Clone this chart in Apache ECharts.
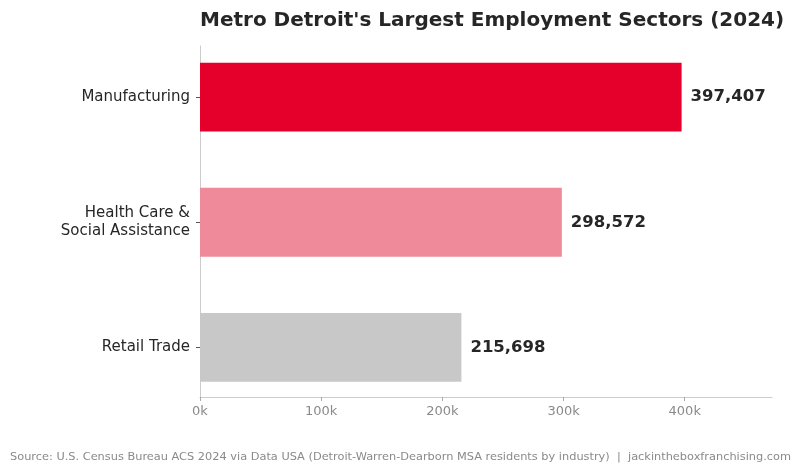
<!DOCTYPE html>
<html>
<head>
<meta charset="utf-8">
<script src="https://cdn.jsdelivr.net/npm/echarts@6/dist/echarts.min.js"></script>
<style>
  html, body { margin: 0; padding: 0; background: #fff; }
  #chart { width: 800px; height: 474px; }
</style>
</head>
<body>
<div id="chart"></div>
<script>
// data
var sectors = ["Manufacturing", "Health Care &\nSocial Assistance", "Retail Trade"];
var employed = [397407, 298572, 215698];
var barColors = ["#E4002B", "#EE8A9A", "#C8C8C8"];
var xTicks = [0, 100000, 200000, 300000, 400000];
var xMax = 472000;

var font = "DejaVu Sans";
var myChart = null;

window.onload = function () {
  myChart = echarts.init(document.getElementById("chart"));
  drawBars();
};

function drawBars() {
  myChart.setOption({
    animation: false,
    textStyle: { fontFamily: font },
    title: {
      text: "Metro Detroit's Largest Employment Sectors (2024)",
      left: 195,
      top: 6,
      textStyle: { fontFamily: font, fontSize: 20, fontWeight: "bold", color: "#262626" },
    },
    graphic: [
      {
        type: "text",
        left: 10,
        top: 452,
        style: {
          text: "Source: U.S. Census Bureau ACS 2024 via Data USA (Detroit-Warren-Dearborn MSA residents by industry)  |  jackintheboxfranchising.com",
          fontFamily: font,
          fontSize: 11.35,
          fill: "#8a8a8a",
        },
      },
    ],
    grid: [
      // bars: bands sized like matplotlib's barh margins
      { left: 200, right: 28, top: 34.5, bottom: 64 },
      // spines and x ticks
      { left: 200, right: 28, top: 46, bottom: 77 },
    ],
    xAxis: [
      {
        gridIndex: 0,
        type: "value",
        min: 0,
        max: xMax,
        show: false,
      },
      {
        gridIndex: 1,
        type: "value",
        min: 0,
        max: xMax,
        interval: 100000,
        axisLine: { show: true, lineStyle: { color: "#cccccc", width: 1 } },
        axisTick: { show: true, length: 4, lineStyle: { color: "#aaaaaa" } },
        splitLine: { show: false },
        axisLabel: {
          color: "#8a8a8a",
          fontSize: 13,
          margin: 8,
          showMaxLabel: false,
          formatter: function (v) {
            return xTicks.indexOf(v) >= 0 ? v / 1000 + "k" : "";
          },
        },
      },
    ],
    yAxis: [
      {
        gridIndex: 0,
        type: "category",
        inverse: true,
        data: sectors,
        axisLine: { show: false },
        axisTick: { show: true, alignWithLabel: true, length: 4, lineStyle: { color: "#555555" } },
        axisLabel: {
          color: "#262626",
          fontSize: 15,
          lineHeight: 18,
          margin: 10,
          align: "right",
        },
      },
      {
        gridIndex: 1,
        type: "value",
        min: 0,
        max: 1,
        axisLine: { show: true, lineStyle: { color: "#cccccc", width: 1 } },
        axisTick: { show: false },
        axisLabel: { show: false },
        splitLine: { show: false },
      },
    ],
    series: [
      {
        type: "bar",
        xAxisIndex: 0,
        yAxisIndex: 0,
        barWidth: "55%",
        data: employed.map(function (v, i) {
          return { value: v, itemStyle: { color: barColors[i] } };
        }),
        label: {
          show: true,
          position: "right",
          distance: 9,
          fontFamily: font,
          fontSize: 16.5,
          fontWeight: "bold",
          color: "#262626",
          formatter: function (p) {
            return p.value.toLocaleString("en-US");
          },
        },
      },
    ],
  });
}
</script>
</body>
</html>
